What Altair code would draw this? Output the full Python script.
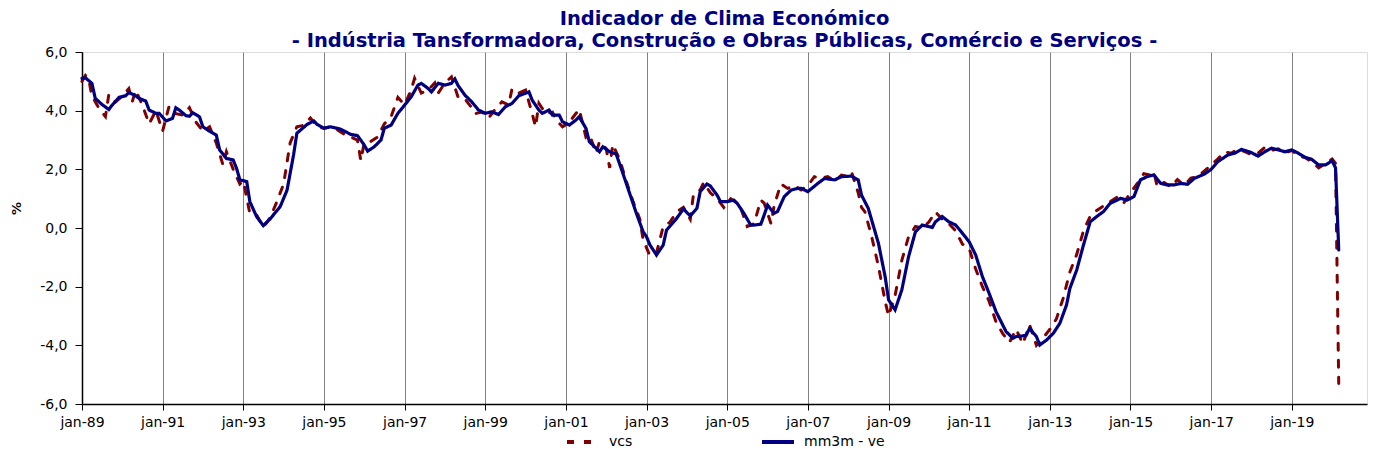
import altair as alt
import pandas as pd

# ---- data (month index from jan-1989, value in %) ----
mm3m_month = [0, 1, 3, 4, 6, 8, 9, 11, 13, 14, 16, 17, 19, 20, 22, 23, 25, 27, 28, 29,
              31, 32, 33, 35, 36, 38, 40, 41, 43, 45, 46, 47, 49, 50, 52, 54, 56, 59, 61, 63,
              64, 67, 69, 70, 72, 74, 77, 80, 82, 84, 85, 87, 89, 90, 92, 94, 96, 98, 100, 101,
              103, 104, 106, 108, 110, 111, 112, 114, 116, 118, 120, 122, 124, 126, 128, 130, 133, 134, 136, 137,
              139, 140, 142, 143, 145, 147, 148, 150, 151, 152, 154, 155, 157, 159, 161, 163, 165, 167, 168, 169,
              171, 173, 174, 177, 179, 181, 183, 184, 186, 187, 189, 190, 192, 194, 195, 197, 199, 200, 202, 203,
              204, 206, 207, 209, 211, 213, 214, 216, 219, 221, 224, 226, 229, 231, 232, 234, 237, 239, 240, 242,
              244, 246, 248, 250, 253, 254, 256, 258, 260, 262, 264, 266, 268, 270, 272, 275, 277, 278, 280, 281,
              282, 284, 285, 287, 289, 291, 293, 294, 296, 298, 300, 302, 304, 306, 308, 309, 311, 313, 315, 317,
              319, 321, 323, 325, 327, 329, 331, 334, 336, 338, 341, 343, 345, 348, 350, 352, 354, 356, 358, 360,
              362, 364, 366, 368, 370, 372, 373, 374]
mm3m_value = [5.10, 5.12, 4.93, 4.42, 4.21, 4.04, 4.19, 4.45, 4.51, 4.62, 4.51, 4.42, 4.33, 4.02, 3.91, 3.91, 3.65, 3.74, 4.10, 4.02,
              3.83, 3.81, 3.93, 3.79, 3.45, 3.30, 3.17, 2.66, 2.37, 2.32, 2.03, 1.64, 1.58, 0.90, 0.39, 0.08, 0.31, 0.73, 1.29, 2.49,
              3.23, 3.53, 3.65, 3.53, 3.40, 3.45, 3.37, 3.19, 3.15, 2.83, 2.62, 2.77, 3.00, 3.40, 3.51, 3.91, 4.19, 4.47, 4.87, 4.93,
              4.76, 4.64, 4.93, 4.87, 4.93, 5.08, 4.85, 4.53, 4.30, 4.02, 3.91, 3.96, 3.87, 4.13, 4.25, 4.51, 4.64, 4.36, 4.02, 3.91,
              4.02, 3.85, 3.85, 3.62, 3.51, 3.68, 3.79, 3.40, 2.94, 2.83, 2.60, 2.77, 2.60, 2.52, 1.86, 1.18, 0.50, -0.13, -0.30, -0.58,
              -0.92, -0.58, -0.07, 0.33, 0.65, 0.41, 0.67, 1.24, 1.50, 1.43, 1.12, 0.90, 0.90, 0.95, 0.84, 0.50, 0.10, 0.10, 0.13, 0.44,
              0.78, 0.50, 0.56, 1.07, 1.29, 1.35, 1.35, 1.24, 1.52, 1.69, 1.64, 1.75, 1.77, 1.64, 1.12, 0.67, -0.52, -1.66, -2.45, -2.79,
              -2.11, -0.98, -0.13, 0.10, 0.02, 0.21, 0.39, 0.21, 0.10, -0.18, -0.47, -0.92, -1.66, -2.23, -2.85, -3.53, -3.76, -3.70, -3.68, -3.65,
              -3.42, -3.70, -3.99, -3.82, -3.59, -3.25, -2.62, -2.06, -1.43, -0.58, 0.21, 0.39, 0.56, 0.84, 0.95, 1.01, 0.95, 1.07, 1.64, 1.75,
              1.81, 1.52, 1.47, 1.47, 1.52, 1.49, 1.69, 1.84, 2.00, 2.26, 2.49, 2.55, 2.68, 2.57, 2.45, 2.60, 2.72, 2.66, 2.60, 2.66,
              2.55, 2.41, 2.34, 2.15, 2.15, 2.29, 2.05, -0.75]

vcs_month = [0, 1, 2, 3, 5, 7, 8, 10, 12, 14, 15, 16, 18, 20, 22, 24, 26, 28, 30, 32,
             34, 36, 38, 40, 42, 43, 45, 47, 48, 50, 52, 54, 56, 58, 60, 62, 64, 66, 68, 70,
             72, 74, 76, 78, 80, 82, 83, 84, 86, 88, 90, 92, 94, 96, 98, 99, 101, 103, 105, 106,
             108, 110, 112, 114, 116, 117, 119, 121, 123, 125, 127, 128, 130, 132, 134, 135, 136, 138, 140, 141,
             143, 145, 146, 148, 150, 151, 153, 154, 156, 157, 158, 160, 162, 164, 166, 167, 169, 171, 173, 175,
             177, 179, 181, 182, 184, 185, 187, 189, 191, 193, 195, 196, 198, 200, 202, 203, 205, 206, 208, 210,
             212, 214, 216, 218, 220, 222, 224, 226, 228, 229, 231, 232, 233, 235, 237, 239, 240, 242, 244, 246,
             248, 250, 252, 254, 256, 258, 260, 262, 264, 266, 268, 270, 272, 274, 276, 278, 280, 282, 284, 286,
             288, 290, 292, 294, 296, 298, 300, 302, 304, 306, 308, 310, 312, 314, 316, 318, 319, 320, 322, 324,
             326, 328, 330, 332, 334, 336, 338, 340, 342, 344, 346, 348, 350, 352, 354, 356, 358, 360, 362, 364,
             366, 368, 370, 372, 373, 374]
vcs_value = [5.0, 5.2, 5.1, 4.5, 4.1, 3.8, 4.55, 4.3, 4.5, 4.75, 4.3, 4.7, 4.2, 3.55, 4.0, 3.3, 4.15, 3.9, 3.85, 4.1,
             3.6, 3.3, 3.45, 2.9, 2.15, 2.6, 2.0, 1.5, 1.6, 0.5, 0.45, 0.03, 0.35, 0.9, 1.5, 2.9, 3.45, 3.5, 3.75, 3.45,
             3.4, 3.45, 3.35, 3.2, 3.1, 3.0, 2.3, 2.9, 2.95, 3.1, 3.55, 3.8, 4.45, 4.2, 4.7, 5.1, 4.6, 4.7, 4.95, 4.6,
             4.95, 5.15, 4.45, 4.4, 4.1, 3.9, 3.95, 3.75, 4.05, 4.3, 4.2, 4.75, 4.6, 4.7, 3.9, 3.45, 4.25, 3.9, 3.95, 3.7,
             3.45, 3.6, 3.75, 4.05, 3.1, 3.2, 2.55, 2.95, 2.7, 2.05, 2.85, 2.35, 1.6, 0.9, 0.3, -0.4, -0.95, -0.85, 0.05, 0.2,
             0.55, 0.7, 0.3, 1.15, 1.3, 1.55, 1.2, 1.0, 0.7, 1.0, 0.85, 0.7, 0.05, 0.15, 0.95, 0.85, 0.15, 0.75, 1.5, 1.35,
             1.45, 1.3, 1.45, 1.75, 1.7, 1.75, 1.6, 1.8, 1.75, 1.9, 1.2, 0.7, 0.55, -0.3, -1.3, -2.5, -3.0, -2.3, -1.1, -0.3,
             0.05, 0.0, 0.2, 0.55, 0.3, 0.15, -0.1, -0.55, -0.7, -1.4, -2.0, -2.5, -3.2, -3.6, -3.9, -3.45, -3.95, -3.3, -4.0, -3.75,
             -3.45, -3.1, -2.4, -1.5, -0.9, -0.1, 0.4, 0.6, 0.75, 0.9, 1.05, 0.85, 1.2, 1.5, 1.85, 1.8, 1.9, 1.4, 1.55, 1.4,
             1.65, 1.45, 1.7, 1.75, 1.95, 2.15, 2.35, 2.6, 2.55, 2.7, 2.6, 2.5, 2.55, 2.75, 2.65, 2.7, 2.55, 2.65, 2.45, 2.4,
             2.25, 2.05, 2.2, 2.35, 2.2, -5.3]

series_names = ["vcs", "mm3m - ve"]
tick_years = list(range(1989, 2021, 2))
y_ticks = [-6, -4, -2, 0, 2, 4, 6]
title_lines = ["Indicador de Clima Económico",
               "- Indústria Tansformadora, Construção e Obras Públicas, Comércio e Serviços -"]

start = pd.Timestamp("1989-01-01")


def to_dates(months):
    return [start + pd.DateOffset(months=int(m)) for m in months]


df = pd.concat([
    pd.DataFrame({"date": to_dates(vcs_month), "value": vcs_value, "serie": series_names[0]}),
    pd.DataFrame({"date": to_dates(mm3m_month), "value": mm3m_value, "serie": series_names[1]}),
], ignore_index=True)

FONT = "DejaVu Sans"

x_enc = alt.X(
    "date:T",
    title=None,
    scale=alt.Scale(domain=[alt.DateTime(year=1989, month=1, date=1),
                            alt.DateTime(year=2020, month=11, date=12)]),
    axis=alt.Axis(
        values=[alt.DateTime(year=y, month=1, date=1) for y in tick_years],
        labelExpr="'jan-' + timeFormat(datum.value, '%y')",
        grid=True, gridColor="#808080", gridWidth=1,
        domainColor="#000000", domainWidth=1.5,
        tickColor="#000000", tickSize=6,
        labelFont=FONT, labelFontSize=14, labelColor="#000000",
        labelPadding=5, labelFlush=False, labelOverlap=False,
    ),
)
y_enc = alt.Y(
    "value:Q",
    title="%",
    scale=alt.Scale(domain=[-6, 6], nice=False, zero=False),
    axis=alt.Axis(
        values=y_ticks,
        labelExpr="(datum.value < 0 ? '-' : '') + abs(datum.value) + ',0'",
        grid=False,
        domainColor="#000000", domainWidth=1.5,
        tickColor="#000000", tickSize=7,
        labelFont=FONT, labelFontSize=14, labelColor="#000000", labelPadding=8,
        titleFont=FONT, titleFontSize=13, titleFontWeight="bold", titleColor="#000000",
        titleX=-66, titleY=156, titleAlign="center", titleBaseline="middle", titleAngle=270,
    ),
)
legend_spec = alt.Legend(
    title=None, orient="none", direction="horizontal",
    legendX=483, legendY=372,
    symbolType="stroke", symbolSize=1024, symbolStrokeWidth=4,
    labelFont=FONT, labelFontSize=14, labelColor="#000000",
    labelOffset=8, columnPadding=121,
)
color_enc = alt.Color(
    "serie:N",
    scale=alt.Scale(domain=series_names, range=["#800000", "#000080"]),
    legend=legend_spec,
)
dash_enc = alt.StrokeDash(
    "serie:N",
    scale=alt.Scale(domain=series_names, range=[[7, 10], [1, 0]]),
    legend=legend_spec,
)

base = alt.Chart(df)
vcs_layer = base.transform_filter(alt.datum.serie == "vcs").mark_line(
    strokeWidth=3, strokeCap="round").encode(
    x=x_enc, y=y_enc, color=color_enc, strokeDash=dash_enc)
mm_layer = base.transform_filter(alt.datum.serie == "mm3m - ve").mark_line(
    strokeWidth=3.2, strokeCap="round").encode(
    x=x_enc, y=y_enc, color=color_enc, strokeDash=dash_enc)

chart = alt.layer(vcs_layer, mm_layer).properties(
    width=1285,
    height=352,
    autosize=alt.AutoSizeParams(type="none"),
    padding={"left": 74, "top": 44, "right": 10, "bottom": 45},
    title=alt.TitleParams(
        text=title_lines,
        font=FONT, fontSize=19.5, fontWeight="bold", color="#000080",
        anchor="middle", offset=3, dy=9, lineHeight=22,
    ),
).configure_view(stroke="#808080", strokeWidth=1).configure(background="white")

chart.save("out.html", embed_options={"renderer": "svg", "actions": False})
